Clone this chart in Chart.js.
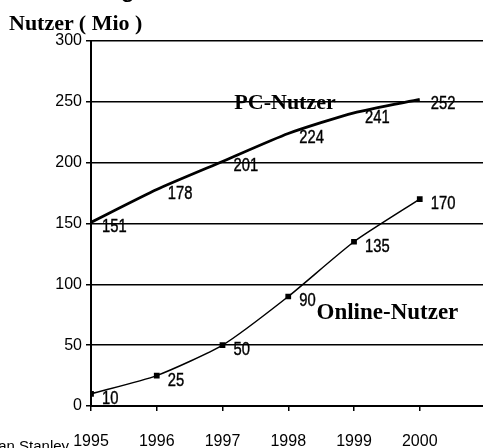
<!DOCTYPE html>
<html>
<head>
<meta charset="utf-8">
<script src="https://cdn.jsdelivr.net/npm/chart.js@4/dist/chart.umd.min.js"></script>
<style>
  html, body { margin: 0; padding: 0; background: #fff; overflow: hidden; }
  #wrap { position: relative; width: 483px; height: 448px; overflow: hidden; }
  canvas { position: absolute; left: 0; top: 0; }
  .txt { position: absolute; white-space: nowrap; color: #000; }
  #kopf { left: 2px; top: -27px; font: 26px "Liberation Sans", Arial, sans-serif; }
  #einheit { left: 9px; top: 10px; font: bold 22px "Liberation Serif", "Times New Roman", serif; }
  #quelle { left: -36px; top: 437px; font: 15px "Liberation Sans", Arial, sans-serif; }
</style>
</head>
<body>
<div id="wrap">
  <canvas id="chart" width="491" height="448"></canvas>
  <div class="txt" id="kopf">Verbreitung treibt das Multimedia-Wachstum</div>
  <div class="txt" id="einheit">Nutzer ( Mio )</div>
  <div class="txt" id="quelle">Morgan Stanley</div>
</div>
<script>
// Werte
const jahre = [1995, 1996, 1997, 1998, 1999, 2000];
const pcNutzer = [151, 178, 201, 224, 241, 252];
const onlineNutzer = [10, 25, 50, 90, 135, 170];
const yTicks = [0, 50, 100, 150, 200, 250, 300];

const SCHRIFT = '"Liberation Sans", Arial, sans-serif';

// Wertebeschriftung rechts unterhalb jedes Punkts (schmal gesetzt wie im
// Original) + Serienbeschriftungen
const beschriftung = {
  id: "beschriftung",
  afterDatasetsDraw(chart) {
    const { ctx, scales: { x, y } } = chart;
    ctx.save();
    ctx.fillStyle = "#000";
    ctx.strokeStyle = "#000";
    ctx.lineWidth = 0.4;
    ctx.font = "18px " + SCHRIFT;
    ctx.textAlign = "left";
    ctx.textBaseline = "middle";
    chart.data.datasets.forEach(ds => {
      ds.data.forEach(p => {
        ctx.save();
        ctx.translate(x.getPixelForValue(p.x) + 11, y.getPixelForValue(p.y) + 5);
        ctx.scale(0.82, 1);
        ctx.fillText(String(p.y), 0, 0);
        ctx.strokeText(String(p.y), 0, 0);
        ctx.restore();
      });
    });
    ctx.font = 'bold 22px "Liberation Serif", "Times New Roman", serif';
    ctx.fillText("PC-Nutzer", x.getPixelForValue(1997.18), y.getPixelForValue(250) + 1);
    ctx.font = 'bold 23px "Liberation Serif", "Times New Roman", serif';
    ctx.fillText("Online-Nutzer", x.getPixelForValue(1998.43), y.getPixelForValue(76.5));
    ctx.restore();
  }
};

new Chart(document.getElementById("chart").getContext("2d"), {
  type: "line",
  data: {
    datasets: [
      {
        label: "PC-Nutzer",
        data: jahre.map((j, i) => ({ x: j, y: pcNutzer[i] })),
        borderColor: "#000",
        borderWidth: 2.8,
        pointRadius: 0,
        tension: 0.2,
      },
      {
        label: "Online-Nutzer",
        data: jahre.map((j, i) => ({ x: j, y: onlineNutzer[i] })),
        borderColor: "#000",
        backgroundColor: "#000",
        borderWidth: 1.5,
        pointStyle: "rect",
        pointRadius: 3,
        tension: 0.2,
      },
    ],
  },
  options: {
    responsive: false,
    animation: false,
    events: [],
    layout: { padding: { top: 41, right: 0, left: 0, bottom: 0 } },
    plugins: { legend: { display: false }, tooltip: { enabled: false } },
    scales: {
      x: {
        type: "linear",
        min: 1995,
        max: 2001,
        afterFit: s => { s.height = 42; },
        afterBuildTicks: s => { s.ticks = jahre.map(v => ({ value: v })); },
        grid: { drawOnChartArea: false, drawTicks: true, tickLength: 5, color: "#000", lineWidth: 1.5 },
        border: { color: "#000", width: 2 },
        ticks: {
          padding: 21,
          color: "#000",
          font: { family: SCHRIFT, size: 16 },
          callback: v => String(v),
        },
      },
      y: {
        min: 0,
        max: 300,
        afterFit: s => { s.width = 91; },
        afterBuildTicks: s => { s.ticks = yTicks.map(v => ({ value: v })); },
        grid: { color: "#000", lineWidth: 1.5, drawTicks: true, tickLength: 5 },
        border: { color: "#000", width: 2 },
        ticks: {
          padding: 4,
          color: "#000",
          font: { family: SCHRIFT, size: 16 },
        },
      },
    },
  },
  plugins: [beschriftung],
});
</script>
</body>
</html>
